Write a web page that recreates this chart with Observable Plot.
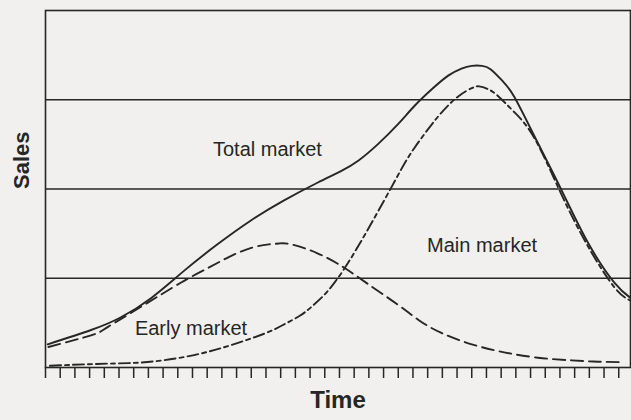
<!DOCTYPE html>
<html>
<head>
<meta charset="utf-8">
<script src="https://cdn.jsdelivr.net/npm/d3@7"></script>
<script src="https://cdn.jsdelivr.net/npm/@observablehq/plot@0.6"></script>
<style>
  html, body { margin: 0; padding: 0; background: #f1f0ee; }
  svg { display: block; }
</style>
</head>
<body>
<div id="chart"></div>
<script>
// Time (tick units) and sales values
const totalT = [0.15, 3.1, 5.1, 7.2, 9.4, 11.7, 14.0, 16.2, 18.5, 20.1, 21.3, 22.6, 24.0, 25.1, 26.3, 27.4, 28.3, 29.0, 29.7, 30.3, 31.1, 31.9, 33.3, 35.1, 36.9, 38.7, 39.8];
const totalV = [0.26, 0.42, 0.56, 0.78, 1.08, 1.38, 1.65, 1.87, 2.07, 2.20, 2.32, 2.50, 2.73, 2.93, 3.12, 3.27, 3.35, 3.38, 3.38, 3.34, 3.21, 3.03, 2.58, 1.99, 1.40, 0.95, 0.78];

const earlyT = [0.2, 3.1, 4.2, 6.5, 9.2, 11.0, 12.5, 14.0, 15.2, 15.9, 16.7, 18.5, 20.3, 21.9, 24.0, 25.4, 26.9, 29.0, 31.2, 33.5, 35.8, 37.6, 39.4];
const earlyV = [0.23, 0.36, 0.45, 0.68, 0.95, 1.11, 1.24, 1.34, 1.38, 1.39, 1.38, 1.28, 1.12, 0.94, 0.70, 0.53, 0.39, 0.26, 0.17, 0.11, 0.08, 0.065, 0.06];

const mainT = [0.3, 3.5, 5.8, 8.0, 10.4, 12.6, 14.9, 16.2, 17.3, 18.1, 19.0, 19.7, 20.5, 21.7, 23.0, 24.2, 25.1, 26.7, 28.1, 29.0, 29.5, 30.1, 30.8, 31.9, 33.3, 35.1, 36.9, 38.7, 39.8];
const mainV = [0.02, 0.04, 0.05, 0.08, 0.15, 0.25, 0.38, 0.48, 0.58, 0.68, 0.82, 0.96, 1.15, 1.48, 1.86, 2.22, 2.46, 2.81, 3.04, 3.13, 3.15, 3.12, 3.04, 2.86, 2.56, 1.94, 1.36, 0.90, 0.75];

const labelNames = ["Total market", "Main market", "Early market"];
const labelT = [15.1, 29.7, 9.9];
const labelV = [2.44, 1.37, 0.44];

const gridValues = [1, 2, 3];
const tickValues = d3.range(0, 40);
const xTitle = "Time";
const yTitle = "Sales";

const toRows = (ts, vs) => ts.map((t, i) => ({t, v: vs[i]}));
const total = toRows(totalT, totalV);
const early = toRows(earlyT, earlyV);
const main = toRows(mainT, mainV);
const labels = labelNames.map((name, i) => ({name, t: labelT[i], v: labelV[i]}));

const ink = "#262626";
const font = "'Liberation Sans', Arial, Helvetica, sans-serif";

const chart = Plot.plot({
  width: 631,
  height: 420,
  marginLeft: 45,
  marginRight: 1,
  marginTop: 10,
  marginBottom: 53,
  style: {background: "#f1f0ee", fontFamily: font, color: ink},
  x: {domain: [0, 39.8], axis: null},
  y: {domain: [0, 4], axis: null},
  marks: [
    Plot.ruleY(gridValues, {stroke: ink, strokeWidth: 1.5}),
    Plot.frame({stroke: ink, strokeWidth: 1.6}),
    Plot.axisX(tickValues, {tickSize: 11, tickFormat: () => "", stroke: ink, strokeWidth: 1.5, label: null}),
    Plot.line(total, {x: "t", y: "v", curve: "natural", stroke: ink, strokeWidth: 1.9}),
    Plot.line(early, {x: "t", y: "v", curve: "natural", stroke: ink, strokeWidth: 1.9, strokeDasharray: "12,6"}),
    Plot.line(main, {x: "t", y: "v", curve: "natural", stroke: ink, strokeWidth: 1.9, strokeDasharray: "11,4,4,4"}),
    Plot.text(labels, {x: "t", y: "v", text: "name", fontSize: 20, fill: ink, fontFamily: font}),
    Plot.text([xTitle], {frameAnchor: "bottom", dy: 40, fontSize: 24, fontWeight: "bold", fill: ink, fontFamily: font}),
    Plot.text([yTitle], {frameAnchor: "left", rotate: -90, dx: -24, fontSize: 22, fontWeight: "bold", fill: ink, fontFamily: font})
  ]
});
document.getElementById("chart").appendChild(chart);
</script>
</body>
</html>
